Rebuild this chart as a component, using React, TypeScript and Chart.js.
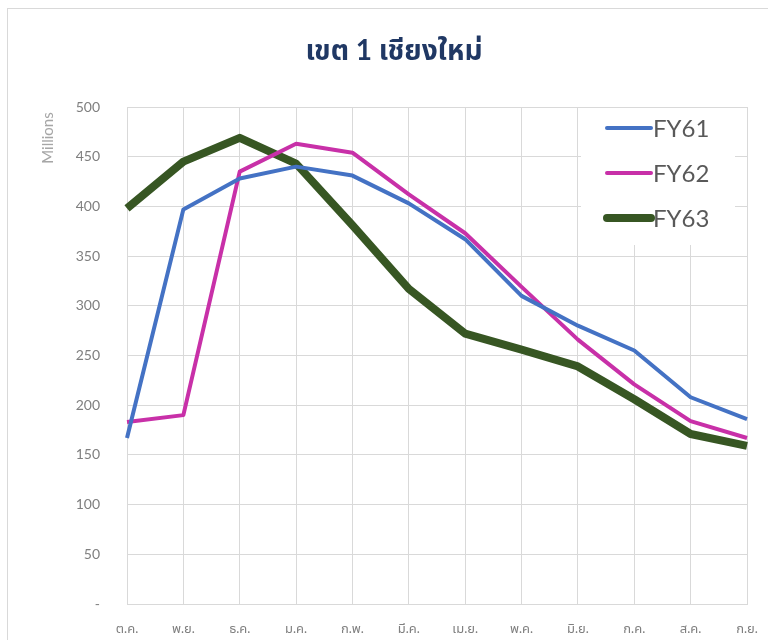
import React, { useEffect, useRef } from "react";
import { Chart, registerables } from "chart.js";

Chart.register(...registerables);

const title = "เขต 1 เชียงใหม่";
const axisUnit = "Millions";
const months = ["ต.ค.", "พ.ย.", "ธ.ค.", "ม.ค.", "ก.พ.", "มี.ค.", "เม.ย.", "พ.ค.", "มิ.ย.", "ก.ค.", "ส.ค.", "ก.ย."];
const seriesNames = ["FY61", "FY62", "FY63"];
const fy61 = [167, 397, 428, 440, 431, 403, 367, 310, 280, 255, 208, 186];
const fy62 = [183, 190, 435, 463, 454, 412, 373, 319, 266, 221, 184, 167];
const fy63 = [398, 445, 469, 443, 381, 317, 272, 256, 239, 206, 171, 159];
const colors = ["#4472C4", "#C830A8", "#375623"];
const widths = [4, 4, 8];

const FONT = "Lato, 'Noto Sans', 'Noto Sans Thai', Tahoma, sans-serif";

const decorPlugin = {
  id: "decor",
  beforeDraw(chart: any) {
    const ctx = chart.ctx;
    ctx.save();
    ctx.fillStyle = "#ffffff";
    ctx.fillRect(0, 0, chart.width, chart.height);
    ctx.strokeStyle = "#d9d9d9";
    ctx.lineWidth = 1;
    ctx.strokeRect(7.5, 8.5, chart.width + 10, chart.height + 10);
    ctx.restore();
  },
  afterDraw(chart: any) {
    const ctx = chart.ctx;
    ctx.save();
    // title
    ctx.fillStyle = "#203864";
    ctx.font = "bold 28px " + FONT;
    ctx.textAlign = "center";
    ctx.textBaseline = "middle";
    ctx.fillText(title, 394, 51);
    // unit label
    ctx.translate(48, 138);
    ctx.rotate(-Math.PI / 2);
    ctx.fillStyle = "#a6a6a6";
    ctx.font = "15px " + FONT;
    ctx.fillText(axisUnit, 0, 0);
    ctx.restore();
  },
  afterDatasetsDraw(chart: any) {
    const ctx = chart.ctx;
    ctx.save();
    ctx.fillStyle = "#ffffff";
    ctx.fillRect(581, 108, 154, 137);
    const ys = [128, 173, 218];
    chart.data.datasets.forEach((ds: any, i: number) => {
      ctx.strokeStyle = ds.borderColor;
      ctx.lineWidth = ds.borderWidth;
      ctx.lineCap = "round";
      ctx.beginPath();
      ctx.moveTo(607, ys[i]);
      ctx.lineTo(651, ys[i]);
      ctx.stroke();
      ctx.fillStyle = "#595959";
      ctx.font = "24px " + FONT;
      ctx.textAlign = "left";
      ctx.textBaseline = "middle";
      ctx.fillText(ds.label, 653, ys[i] + 1);
    });
    ctx.restore();
  },
};

export default function App() {
  const ref = useRef<HTMLCanvasElement | null>(null);
  useEffect(() => {
    if (!ref.current) return;
    const data = [fy61, fy62, fy63];
    const chart = new Chart(ref.current, {
      type: "line",
      data: {
        labels: months,
        datasets: seriesNames.map((n, i) => ({
          label: n,
          data: data[i],
          borderColor: colors[i],
          backgroundColor: colors[i],
          borderWidth: widths[i],
          pointRadius: 0,
          tension: 0,
          borderJoinStyle: "round" as const,
        })),
      },
      options: {
        animation: false,
        responsive: false,
        layout: { padding: { top: 107, right: 21, left: 0, bottom: 0 } },
        plugins: { legend: { display: false }, title: { display: false }, tooltip: { enabled: false } },
        scales: {
          x: {
            offset: false,
            grid: { color: "#d9d9d9", lineWidth: 1, drawTicks: false },
            border: { color: "#d9d9d9" },
            ticks: { color: "#7f7f7f", font: { size: 13, family: FONT }, padding: 17, maxRotation: 0, autoSkip: false },
            afterFit(s: any) { s.height = 36; s.paddingLeft = 0; s.paddingRight = 0; },
          },
          y: {
            min: 0,
            max: 500,
            grid: { color: "#d9d9d9", lineWidth: 1, drawTicks: false },
            border: { display: false },
            ticks: {
              stepSize: 50,
              color: "#7f7f7f",
              font: { size: 14, family: FONT },
              padding: 27,
              callback: (v: any) => (v === 0 ? "-" : String(v)),
            },
            afterFit(s: any) { s.width = 127; s.paddingTop = 0; s.paddingBottom = 0; },
          },
        },
      },
      plugins: [decorPlugin],
    });
    return () => chart.destroy();
  }, []);
  return (
    <div style={{ position: "absolute", left: 0, top: 0, width: 768, height: 640, background: "#fff" }}>
      <canvas ref={ref} width={768} height={640} style={{ display: "block" }} />
    </div>
  );
}
